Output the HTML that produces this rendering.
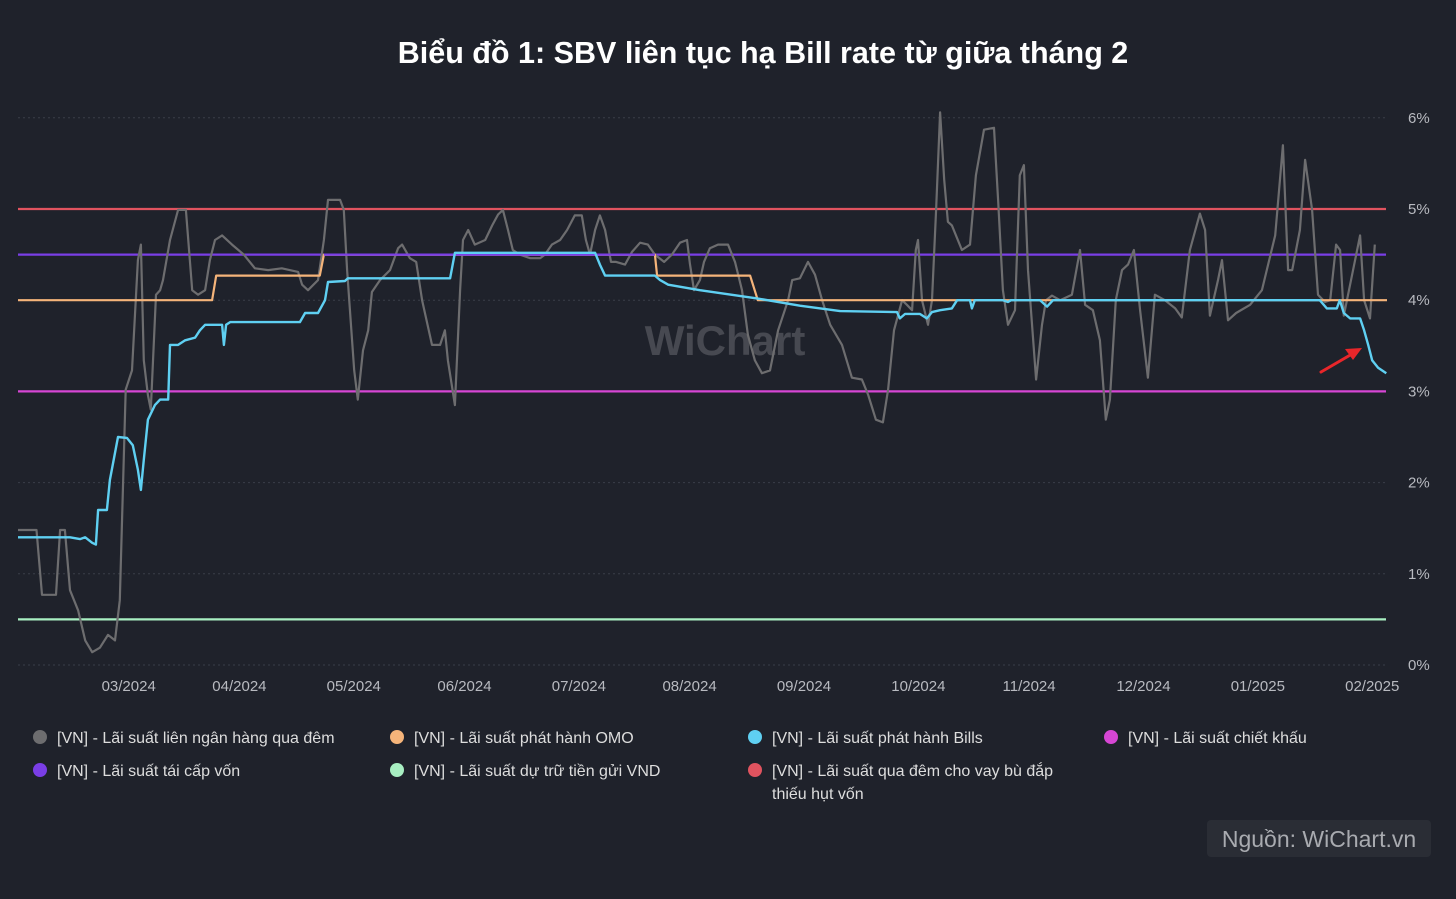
<!DOCTYPE html>
<html><head><meta charset="utf-8">
<style>
html,body{margin:0;padding:0;background:#1f222b;}
body{width:1456px;height:899px;overflow:hidden;font-family:"Liberation Sans","DejaVu Sans",sans-serif;}
</style></head>
<body>
<svg id="chart" width="1456" height="899" xmlns="http://www.w3.org/2000/svg" style="display:block">
  <rect width="1456" height="899" fill="#1f222b"/>
  <text x="763" y="63" text-anchor="middle" font-size="30.5" font-weight="bold" fill="#ffffff">Biểu đồ 1: SBV liên tục hạ Bill rate từ giữa tháng 2</text>
  <g id="grid"></g>
  <g id="yaxis"></g>
  <g id="xaxis"></g>
  <text x="725" y="355" text-anchor="middle" font-size="42" font-weight="bold" fill="#ffffff" fill-opacity="0.18">WiChart</text>
  <g id="series"></g>
  <g>
    <line x1="1321" y1="372" x2="1352" y2="354" stroke="#e8262a" stroke-width="3" stroke-linecap="round"/>
    <polygon points="1362,348 1345,349 1353,360" fill="#e8262a"/>
  </g>
  <g id="legend" font-size="16" fill="#dddddd"></g>
  <rect x="1207" y="820" width="224" height="37" rx="4" fill="#2a2d35"/>
  <text x="1319" y="847" text-anchor="middle" font-size="23" fill="#a9abb0">Nguồn: WiChart.vn</text>
</svg>
<script>
const NS="http://www.w3.org/2000/svg";
// ---- data ----
const yTicks=[0,1,2,3,4,5,6];
const monthLabels=["03/2024","04/2024","05/2024","06/2024","07/2024","08/2024","09/2024","10/2024","11/2024","12/2024","01/2025","02/2025"];
const monthDays=[30,60,91,121,152,182,213,244,274,305,336,367];
const interbankDays=[0,5,6.5,10.3,11.4,12.7,14.1,16.3,18.2,20.1,22.2,24.4,26.3,27.6,29.2,30.9,32.5,33.3,34.1,35.2,36,37.4,38.5,39.3,41.2,43.4,45.5,47.2,48.8,50.7,52,53.4,55.3,58,61.2,64.2,67.8,71.5,75.9,77,78.6,81.3,82.9,84,87.3,88.3,89.2,91.1,92.1,93.5,94.9,95.9,98.1,100.8,103,104.1,106.2,107.9,109.5,112.2,114.4,115.7,116.5,118.4,119.8,120.6,122,123.8,126.6,128.5,130.1,131.4,132.8,134.1,136,138.8,141.5,142.8,144.7,146.9,148.8,150.9,152.8,153.9,155,156.4,157.7,159.1,160.7,162.1,164.5,166.4,168.6,170.7,172.6,175.1,177.2,179.4,181.3,182.1,183.2,184.8,185.9,187.5,189.7,192.4,194.3,196.2,197.8,199.7,201.6,203.8,206,208.7,209.8,211.9,214.1,216,217.9,220.1,223.3,226,228.7,230.4,232.5,234.4,235.8,237.4,239.6,240.9,242.3,243.3,243.9,245,246.6,247.7,248.8,249.9,251,252,253.1,255.8,258,259.6,261.8,264.5,265.6,266.9,268.3,270.2,271.5,272.6,273.7,275.9,277.5,278.6,280.2,282.4,285.6,287.8,289.2,291.3,293.2,294.8,295.9,297.5,299.2,300.8,302.4,304.1,306.2,308.1,310.8,313.6,315.4,317.6,320.3,321.7,323,325.2,326.3,327.9,330.1,333.9,337.1,340.7,342.8,344.2,345.3,347.4,348.8,350.7,352.3,354.2,355.6,357.2,358.3,359.3,361,363.7,364.8,366.4,367.7];
const interbankValues=[1.48,1.48,0.77,0.77,1.48,1.48,0.82,0.6,0.27,0.14,0.19,0.33,0.27,0.71,3.02,3.23,4.44,4.61,3.34,2.96,2.8,4.06,4.11,4.22,4.66,4.99,4.99,4.11,4.06,4.11,4.44,4.66,4.71,4.61,4.5,4.35,4.33,4.35,4.31,4.17,4.11,4.22,4.66,5.1,5.1,4.99,4.33,3.23,2.91,3.45,3.67,4.09,4.22,4.33,4.57,4.61,4.46,4.42,4,3.51,3.51,3.67,3.34,2.85,4.11,4.66,4.77,4.61,4.66,4.82,4.94,4.99,4.77,4.55,4.5,4.46,4.46,4.5,4.61,4.66,4.77,4.93,4.93,4.66,4.5,4.77,4.93,4.77,4.42,4.42,4.39,4.53,4.63,4.61,4.5,4.42,4.5,4.63,4.66,4.4,4.11,4.22,4.42,4.57,4.61,4.61,4.42,4.11,3.62,3.34,3.2,3.23,3.67,4,4.22,4.24,4.42,4.28,4,3.73,3.51,3.15,3.13,2.96,2.69,2.66,3.02,3.67,4,3.95,3.89,4.55,4.66,4,3.73,4,4.99,6.06,5.32,4.86,4.82,4.55,4.61,5.37,5.87,5.89,5.1,4.11,3.73,3.89,5.37,5.48,4.33,3.13,3.73,4,4.05,4,4.06,4.55,3.95,3.89,3.56,2.69,2.91,4,4.33,4.39,4.55,3.89,3.15,4.06,4,3.91,3.81,4.55,4.95,4.77,3.83,4.22,4.44,3.78,3.86,3.95,4.11,4.71,5.7,4.33,4.33,4.77,5.54,4.99,4.06,3.98,4,4.61,4.55,3.83,4.17,4.71,4,3.8,4.61];
const billsDays=[0,14.1,16.8,18.2,20.1,21.1,21.7,24.1,24.9,27.1,29.5,31.1,32.5,33.3,34.1,35.2,37.1,38.5,40.7,41.2,43.4,45.3,48,49.3,50.7,55.3,55.8,56.4,57.5,76.4,77.8,81.3,83.2,84,88.6,89.4,117.1,118.4,156.4,157.7,159.1,172.6,174,176.2,184.8,200.3,211.9,222.8,238.2,239,240.4,244.4,246.3,247.7,249.9,253.1,254.5,258,258.5,259.3,266.9,268.3,269.1,277,278.9,280.5,352.8,354.7,357.4,358.2,359.3,361,363.7,364.8,365.9,367,368.6,370.8];
const billsValues=[1.4,1.4,1.38,1.4,1.34,1.32,1.7,1.7,2.03,2.5,2.49,2.41,2.14,1.92,2.25,2.69,2.85,2.91,2.91,3.51,3.51,3.56,3.59,3.67,3.73,3.73,3.51,3.73,3.76,3.76,3.86,3.86,4,4.2,4.21,4.24,4.24,4.52,4.52,4.39,4.27,4.27,4.22,4.17,4.11,4.02,3.94,3.88,3.87,3.8,3.85,3.85,3.8,3.87,3.89,3.91,4,4,3.91,4,4,3.98,4,4,3.93,4,4,3.91,3.91,4,3.86,3.8,3.8,3.67,3.51,3.34,3.26,3.2];
const omoDays=[0,52.6,53.7,81.8,82.9,172.6,173.2,198.4,200.5,371];
const omoValues=[4,4,4.27,4.27,4.5,4.5,4.27,4.27,4,4];
const constantNames=["refinancing","overnight-lending","discount","reserve-deposit"];
const constantValues=[4.5,5,3,0.5];
// ---- scales ----
const x=d=>18+d*3.69;
const y=v=>665-v*91.2;
function mk(tag,attrs,parent){const e=document.createElementNS(NS,tag);for(const k in attrs)e.setAttribute(k,attrs[k]);parent.appendChild(e);return e;}
const grid=document.getElementById('grid'),ya=document.getElementById('yaxis'),xa=document.getElementById('xaxis'),ser=document.getElementById('series');
yTicks.forEach(t=>{
  const l=mk('line',{x1:18,x2:1386,y1:y(t),y2:y(t),stroke:'#3a3e49','stroke-width':1,'stroke-dasharray':'2,3'},grid);
  
  
  const tx=mk('text',{x:1408,y:y(t)+5,'font-size':15,fill:'#b8bac0'},ya);tx.textContent=t+'%';
  
  
});
monthLabels.forEach((m,i)=>{
  const tx=mk('text',{x:x(monthDays[i]),y:691,'font-size':15,fill:'#b8bac0','text-anchor':'middle'},xa);tx.textContent=m;
  
  
});
const constColors=['#7a3ee6','#e0535f','#d646d4','#a8efc2'];
constantValues.forEach((v,i)=>{
  const l=mk('line',{x1:18,x2:1386,y1:y(v),y2:y(v),stroke:constColors[i],'stroke-width':2.2},ser);
  
  
});
function path(ds,vs){return ds.map((d,i)=>(i?'L':'M')+x(d).toFixed(1)+','+y(vs[i]).toFixed(1)).join('');}
const g1=mk('path',{d:path(interbankDays,interbankValues),fill:'none',stroke:'#6d6d6f','stroke-width':2.2,'stroke-linejoin':'round'},ser);


const o1=mk('path',{d:path(omoDays,omoValues),fill:'none',stroke:'#f5b47a','stroke-width':2.2,'stroke-linejoin':'round'},ser);


const p2=mk('line',{x1:x(82.9),x2:x(172.6),y1:y(4.5),y2:y(4.5),stroke:'#7a3ee6','stroke-width':2.2},ser);


const b1=mk('path',{d:path(billsDays,billsValues),fill:'none',stroke:'#5fd0f2','stroke-width':2.4,'stroke-linejoin':'round'},ser);


// legend
const legendItems=[
 ['#6d6d6f','[VN] - Lãi suất liên ngân hàng qua đêm',40,737],
 ['#f5b47a','[VN] - Lãi suất phát hành OMO',397,737],
 ['#5fd0f2','[VN] - Lãi suất phát hành Bills',755,737],
 ['#d646d4','[VN] - Lãi suất chiết khấu',1111,737],
 ['#7a3ee6','[VN] - Lãi suất tái cấp vốn',40,770],
 ['#a8efc2','[VN] - Lãi suất dự trữ tiền gửi VND',397,770],
 ['#e0535f','[VN] - Lãi suất qua đêm cho vay bù đắp',755,770]
];
const lg=document.getElementById('legend');
legendItems.forEach(it=>{
  const g=mk('g',{},lg);
  
  
  mk('circle',{cx:it[2],cy:it[3],r:7,fill:it[0]},g);
  const t=mk('text',{x:it[2]+17,y:it[3]+6},g);t.textContent=it[1];
});
const t2=mk('text',{x:772,y:799},lg);t2.textContent='thiếu hụt vốn';


</script>
</body></html>
